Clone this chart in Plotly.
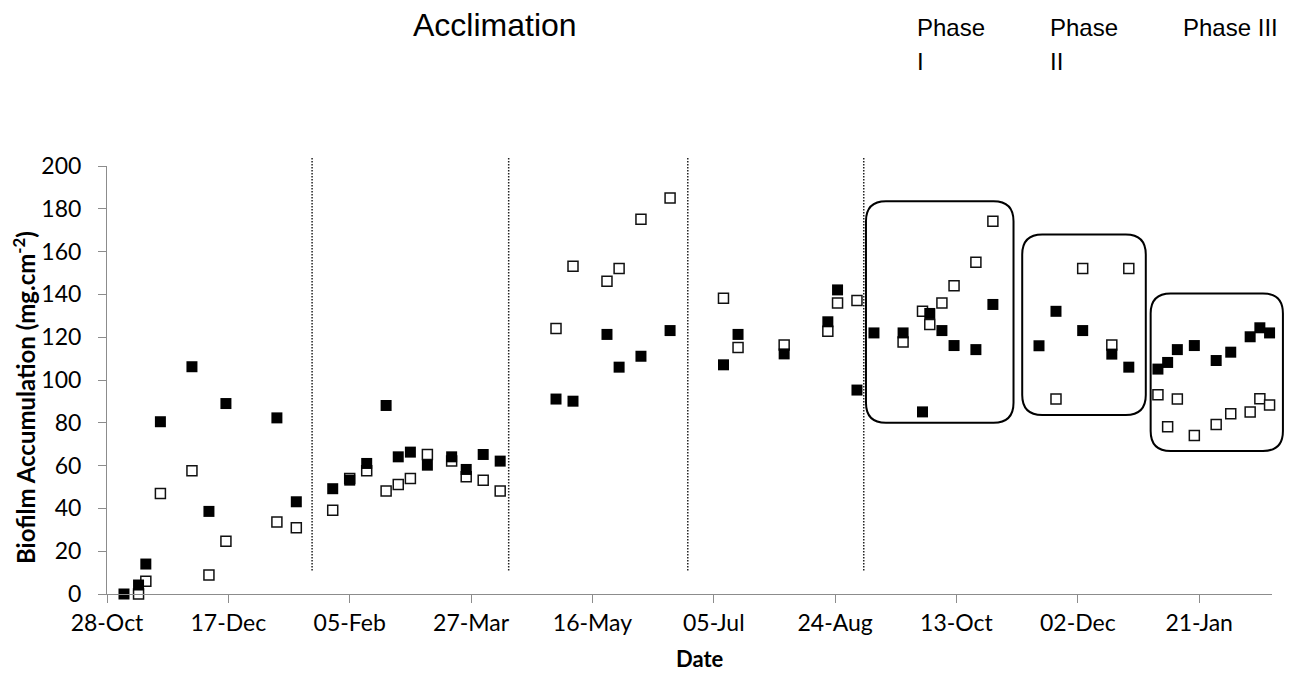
import pandas as pd
import plotly.graph_objects as go

# ---- data -------------------------------------------------------------
sample_dates = [
    "2010-11-04", "2010-11-10", "2010-11-13", "2010-11-19", "2010-12-02",
    "2010-12-09", "2010-12-16", "2011-01-06", "2011-01-14",
    "2011-01-29", "2011-02-05", "2011-02-12", "2011-02-20", "2011-02-25",
    "2011-03-02", "2011-03-09", "2011-03-19", "2011-03-25", "2011-04-01",
    "2011-04-08",
    "2011-05-01", "2011-05-08", "2011-05-22", "2011-05-27", "2011-06-05",
    "2011-06-17",
    "2011-07-09", "2011-07-15", "2011-08-03", "2011-08-21", "2011-08-25",
    "2011-09-02", "2011-09-09",
    "2011-09-21", "2011-09-29", "2011-10-02", "2011-10-07", "2011-10-12",
    "2011-10-21", "2011-10-28",
    "2011-11-16", "2011-11-23", "2011-12-04", "2011-12-16", "2011-12-23",
    "2012-01-04", "2012-01-08", "2012-01-12", "2012-01-19", "2012-01-28",
    "2012-02-03", "2012-02-11", "2012-02-15", "2012-02-19",
]

solid_series = [
    0, 4.2, 14, 80.5, 106.2, 38.6, 89, 82.3, 43.1,
    49.2, 53.2, 61, 88.1, 64.1, 66.3, 60.2, 64.1, 58.2, 65.2, 62.1,
    91.1, 90.1, 121.3, 106, 111.1, 123.1,
    107.1, 121.3, 112.2, 127.2, 142.1, 95.3, 122,
    122, 85.1, 131.1, 123.1, 116.1, 114.2, 135.3,
    116, 132.1, 123.1, 112.1, 106,
    105.1, 108.2, 114.2, 116.1, 109.1, 113, 120.2, 124.4, 122,
]

hollow_series = [
    None, 0, 6, 47, 57.6, 8.9, 24.6, 33.6, 31,
    39.1, 54, 57.6, 48.1, 51.2, 54, 65.2, 62.1, 54.8, 53.2, 48.1,
    124.1, 153.2, 146.2, 152.1, 175.1, 185.1,
    138.2, 115.2, 116.3, 122.8, 136, 137.1, None,
    117.8, 132.1, 125.9, 136, 144.1, 155, 174.2,
    None, 91.1, 152.1, 116.4, 152.1,
    93.1, 78.1, 91.1, 74.1, 79.2, 84.2, 85.1, 91.2, 88.3,
]

# dotted separators inside the acclimation period
period_breaks = ["2011-01-20 12:00", "2011-04-11 12:00",
                 "2011-06-24 07:00", "2011-09-04 19:00"]
break_low, break_high = 11, 204

# rounded frames around the three operating phases (start, end, low, high)
phase_frames = [
    ("2011-09-05 17:00", "2011-11-05 12:00", 80.0, 183.5),
    ("2011-11-09 02:00", "2011-12-30 00:00", 83.6, 168.0),
    ("2012-01-01 00:00", "2012-02-24 12:00", 66.8, 140.4),
]

x_start, x_end = "2010-10-28", "2012-02-20"
y_min, y_max = 0, 200
tick_step_days = 50

# ---- layout geometry ---------------------------------------------------
W, H = 1292, 673
PL, PR, PT, PB = 107, 1272, 166, 594

t0, t1 = pd.Timestamp(x_start), pd.Timestamp(x_end)


def date_to_paper(d):
    return (pd.Timestamp(d) - t0) / (t1 - t0)


def val_to_paper(v):
    return (v - y_min) / (y_max - y_min)


def px_to_paper_x(p):
    return (p - PL) / (PR - PL)


def px_to_paper_y(p):
    return (PB - p) / (PB - PT)


def rounded_box(x0, x1, y0, y1, r_px=20):
    rx = r_px / (PR - PL)
    ry = r_px / (PB - PT)
    return (f"M {x0 + rx},{y1} L {x1 - rx},{y1} Q {x1},{y1} {x1},{y1 - ry} "
            f"L {x1},{y0 + ry} Q {x1},{y0} {x1 - rx},{y0} "
            f"L {x0 + rx},{y0} Q {x0},{y0} {x0},{y0 + ry} "
            f"L {x0},{y1 - ry} Q {x0},{y1} {x0 + rx},{y1} Z")


# ---- figure -------------------------------------------------------------
fig = go.Figure()

fig.add_trace(go.Scatter(
    x=sample_dates, y=hollow_series, mode="markers", cliponaxis=False,
    marker=dict(symbol="square", size=10, color="white",
                line=dict(color="#111111", width=1.5)),
    showlegend=False,
))
fig.add_trace(go.Scatter(
    x=sample_dates, y=solid_series, mode="markers", cliponaxis=False,
    marker=dict(symbol="square", size=11, color="black",
                line=dict(width=0)),
    showlegend=False,
))

shapes = []
for d in period_breaks:
    xp = date_to_paper(d)
    shapes.append(dict(type="line", xref="paper", yref="paper",
                       x0=xp, x1=xp,
                       y0=val_to_paper(break_low), y1=val_to_paper(break_high),
                       line=dict(color="#222222", width=1.5, dash="1.5px,1.5px")))
for start, end, low, high in phase_frames:
    shapes.append(dict(type="path", xref="paper", yref="paper",
                       path=rounded_box(date_to_paper(start), date_to_paper(end),
                                        val_to_paper(low), val_to_paper(high)),
                       line=dict(color="black", width=2)))

head_font = dict(family="Liberation Sans, Arial, sans-serif", color="black")
annotations = [
    dict(text="Acclimation", x=px_to_paper_x(495), y=px_to_paper_y(25),
         xanchor="center", yanchor="middle",
         font=dict(size=32, **head_font)),
    dict(text="Phase", x=px_to_paper_x(915), y=px_to_paper_y(27),
         xanchor="left", yanchor="middle", font=dict(size=24, **head_font)),
    dict(text="I", x=px_to_paper_x(915), y=px_to_paper_y(62),
         xanchor="left", yanchor="middle", font=dict(size=24, **head_font)),
    dict(text="Phase", x=px_to_paper_x(1048), y=px_to_paper_y(27),
         xanchor="left", yanchor="middle", font=dict(size=24, **head_font)),
    dict(text="II", x=px_to_paper_x(1048), y=px_to_paper_y(62),
         xanchor="left", yanchor="middle", font=dict(size=24, **head_font)),
    dict(text="Phase III", x=px_to_paper_x(1181), y=px_to_paper_y(27),
         xanchor="left", yanchor="middle", font=dict(size=24, **head_font)),
    dict(text="<b>Biofilm Accumulation (mg.cm<sup>-2</sup>)</b>",
         x=px_to_paper_x(24), y=px_to_paper_y(398), textangle=-90,
         xanchor="center", yanchor="middle",
         font=dict(family="Lato, sans-serif", size=24, color="black")),
    dict(text="<b>Date</b>", x=px_to_paper_x(700), y=px_to_paper_y(658),
         xanchor="center", yanchor="middle",
         font=dict(family="Lato, sans-serif", size=22, color="black")),
]
for a in annotations:
    a.update(xref="paper", yref="paper", showarrow=False)

axis_gray = "#8c8c8c"
fig.update_layout(
    width=W, height=H, autosize=False,
    margin=dict(l=PL, r=W - PR, t=PT, b=H - PB, pad=0),
    paper_bgcolor="white", plot_bgcolor="white",
    shapes=shapes, annotations=annotations,
    xaxis=dict(
        type="date", range=[x_start, x_end],
        tick0=x_start, dtick=tick_step_days * 86400000, tickformat="%d-%b",
        showgrid=False, zeroline=False,
        showline=True, linecolor=axis_gray, linewidth=1,
        ticks="outside", ticklen=8, tickcolor=axis_gray, tickwidth=1,
        tickfont=dict(family="Lato, sans-serif", size=23, color="black"),
    ),
    yaxis=dict(
        range=[y_min, y_max], dtick=20, tick0=0,
        showgrid=False, zeroline=False,
        showline=True, linecolor=axis_gray, linewidth=1,
        ticks="outside", ticklen=8, tickcolor=axis_gray, tickwidth=1,
        ticklabelstandoff=12,
        tickfont=dict(family="Lato, sans-serif", size=23, color="black"),
    ),
)

fig.write_html("out.html")
